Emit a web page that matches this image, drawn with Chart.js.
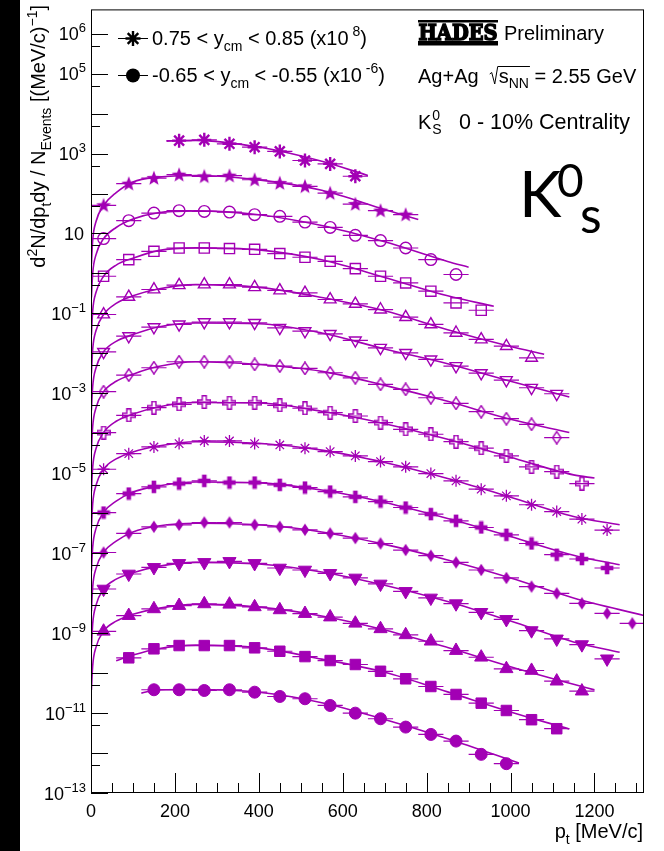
<!DOCTYPE html>
<html>
<head>
<meta charset="utf-8">
<script src="https://cdn.jsdelivr.net/npm/chart.js@4.4.1/dist/chart.umd.min.js"></script>
<style>
  html, body { margin: 0; padding: 0; background: #fff; }
  canvas { display: block; }
</style>
</head>
<body>
<canvas id="spectra" width="664" height="851"></canvas>
<script>
// pt bins [MeV/c], centres and half width of the horizontal error bars
const binCentres = [30, 90, 150, 210, 270, 330, 390, 450, 510, 570, 630, 690, 750, 810, 870, 930, 990, 1050, 1110, 1170, 1230, 1290];
const binHalfWidth = 30;

// rapidity bins, top to bottom, and the factor each spectrum is scaled by
const rapidityBins = ['0.75 < y_cm < 0.85', '0.65 < y_cm < 0.75', '0.55 < y_cm < 0.65', '0.45 < y_cm < 0.55', '0.35 < y_cm < 0.45',
  '0.25 < y_cm < 0.35', '0.15 < y_cm < 0.25', '0.05 < y_cm < 0.15', '-0.05 < y_cm < 0.05', '-0.15 < y_cm < -0.05',
  '-0.25 < y_cm < -0.15', '-0.35 < y_cm < -0.25', '-0.45 < y_cm < -0.35', '-0.55 < y_cm < -0.45', '-0.65 < y_cm < -0.55'];
const scaleExponents = [8, 7, 6, 5, 4, 3, 2, 1, 0, -1, -2, -3, -4, -5, -6];

// measured spectra (already scaled), one value per bin of binCentres
const ycm_p080 = [null, null, null, 2100, 2200, 1750, 1440, 1130, 670, 550, 270];
const ycm_p070 = [50.5, 176, 243, 295, 268, 279, 221, 182, 151, 102, 54.4, 37.2, 29.6];
const ycm_p060 = [7.43, 20.9, 32.4, 37.2, 35.7, 34.3, 29.6, 26.8, 19.3, 14.2, 9.0, 6.63, 4.33, 2.22, 0.94];
const ycm_p050 = [0.851, 2.22, 3.58, 4.33, 4.33, 4.19, 4.02, 3.14, 2.54, 2.01, 1.32, 0.851, 0.579, 0.359, 0.183, 0.120];
const ycm_p040 = [0.094, 0.259, 0.396, 0.507, 0.528, 0.528, 0.452, 0.374, 0.326, 0.223, 0.173, 0.125, 0.0805, 0.0530, 0.0327, 0.0223, 0.0152, 0.00774];
const ycm_p030 = [0.0109, 0.0270, 0.0453, 0.0530, 0.0604, 0.0604, 0.0581, 0.0436, 0.0360, 0.0308, 0.0211, 0.0138, 0.0103, 0.00706, 0.00481, 0.00321, 0.00215, 0.00138, 0.000977];
const ycm_p020 = [1.10e-3, 2.86e-3, 4.37e-3, 6.17e-3, 6.17e-3, 6.17e-3, 5.30e-3, 4.81e-3, 4.21e-3, 3.27e-3, 2.45e-3, 1.68e-3, 1.26e-3, 7.76e-4, 5.62e-4, 3.47e-4, 2.32e-4, 1.68e-4, 7.78e-5];
const ycm_p010 = [1.04e-4, 2.82e-4, 4.38e-4, 5.32e-4, 6.07e-4, 5.83e-4, 5.83e-4, 5.02e-4, 4.23e-4, 3.28e-4, 2.71e-4, 1.85e-4, 1.26e-4, 9.46e-5, 6.19e-5, 4.24e-5, 2.72e-5, 1.45e-5, 1.10e-5, 5.53e-6];
const ycm_p000 = [1.26e-5, 3.10e-5, 4.56e-5, 5.52e-5, 6.44e-5, 6.44e-5, 5.52e-5, 5.12e-5, 4.24e-5, 3.48e-5, 2.72e-5, 1.96e-5, 1.45e-5, 9.82e-6, 6.46e-6, 4.01e-6, 2.72e-6, 1.63e-6, 1.10e-6, 7.13e-7, 3.79e-7];
const ycm_m010 = [1.04e-6, 3.11e-6, 4.57e-6, 5.53e-6, 6.46e-6, 5.86e-6, 5.86e-6, 5.13e-6, 4.40e-6, 3.49e-6, 2.57e-6, 1.96e-6, 1.39e-6, 9.51e-7, 6.47e-7, 4.40e-7, 2.89e-7, 1.75e-7, 9.16e-8, 7.15e-8, 4.26e-8];
const ycm_m020 = [1.04e-7, 3.12e-7, 4.58e-7, 5.14e-7, 5.87e-7, 5.87e-7, 5.14e-7, 4.58e-7, 3.85e-7, 3.12e-7, 2.39e-7, 1.75e-7, 1.20e-7, 8.65e-8, 5.89e-8, 3.80e-8, 2.40e-8, 1.46e-8, 9.89e-9, 5.57e-9, 3.13e-9, 1.76e-9];
const ycm_m030 = [1.27e-8, 3.02e-8, 4.42e-8, 5.56e-8, 5.89e-8, 6.24e-8, 5.56e-8, 4.26e-8, 3.80e-8, 3.13e-8, 2.40e-8, 1.70e-8, 1.11e-8, 7.59e-9, 5.47e-9, 3.32e-9, 2.21e-9, 1.16e-9, 7.18e-10, 5.18e-10, 2.28e-10];
const ycm_m040 = [1.11e-9, 2.74e-9, 4.04e-9, 4.88e-9, 5.38e-9, 5.26e-9, 4.53e-9, 3.81e-9, 3.08e-9, 2.52e-9, 1.76e-9, 1.28e-9, 9.04e-10, 6.27e-10, 3.66e-10, 2.49e-10, 1.28e-10, 1.16e-10, 6.27e-11, 3.53e-11];
const ycm_m050 = [null, 2.41e-10, 4.05e-10, 4.89e-10, 4.89e-10, 4.89e-10, 4.29e-10, 3.52e-10, 2.59e-10, 2.06e-10, 1.64e-10, 1.11e-10, 7.20e-11, 4.62e-11, 2.92e-11, 1.77e-11, 1.16e-11, 6.82e-12, 4.06e-12];
const ycm_m060 = [null, null, 3.83e-11, 3.83e-11, 3.67e-11, 3.83e-11, 3.33e-11, 2.60e-11, 2.28e-11, 1.55e-11, 9.95e-12, 7.21e-12, 4.46e-12, 2.92e-12, 1.99e-12, 9.27e-13, 5.42e-13];

// fit curves, on a common pt grid, plus their start and end
const fitGrid = [4, 12, 30, 60, 100, 160, 250, 400, 550, 700, 850, 1000, 1150];
const fit_p080 = [null, null, null, null, null, null, 2140, 1450, 640];
const fit_p070 = [6.76, 20.0, 50.1, 105, 195, 257, 282, 219, 120, 39.8];
const fit_p060 = [1.0, 2.95, 7.41, 14.1, 22.9, 33.1, 36.7, 29.5, 15.8, 6.17, 2.0];
const fit_p050 = [0.115, 0.339, 0.851, 1.62, 2.40, 3.72, 4.37, 3.89, 2.19, 0.794, 0.275];
const fit_p040 = [0.0126, 0.0372, 0.0933, 0.178, 0.275, 0.407, 0.525, 0.447, 0.251, 0.117, 0.0389, 0.0148];
const fit_p030 = [1.48e-3, 4.37e-3, 1.10e-2, 2.00e-2, 2.95e-2, 4.57e-2, 5.75e-2, 5.50e-2, 3.24e-2, 1.29e-2, 5.50e-3, 2.00e-3];
const fit_p020 = [1.48e-4, 4.37e-4, 1.10e-3, 2.00e-3, 3.02e-3, 4.68e-3, 6.17e-3, 5.25e-3, 3.55e-3, 1.58e-3, 6.31e-4, 2.24e-4];
const fit_p010 = [1.41e-5, 4.17e-5, 1.05e-4, 2.00e-4, 3.02e-4, 4.57e-4, 5.89e-4, 5.75e-4, 3.55e-4, 1.74e-4, 7.08e-5, 2.51e-5, 9.12e-6];
const fit_p000 = [1.70e-6, 5.01e-6, 1.26e-5, 2.29e-5, 3.39e-5, 4.79e-5, 6.17e-5, 5.62e-5, 3.80e-5, 1.86e-5, 7.41e-6, 2.51e-6, 8.32e-7];
const fit_m010 = [1.41e-7, 4.17e-7, 1.05e-6, 2.00e-6, 3.39e-6, 4.79e-6, 6.03e-6, 5.75e-6, 3.80e-6, 1.86e-6, 7.41e-7, 2.63e-7, 8.91e-8];
const fit_m020 = [1.41e-8, 4.17e-8, 1.05e-7, 2.00e-7, 3.39e-7, 4.79e-7, 5.62e-7, 5.13e-7, 3.39e-7, 1.66e-7, 6.76e-8, 2.40e-8, 7.59e-9];
const fit_m030 = [1.70e-9, 5.01e-9, 1.26e-8, 2.24e-8, 3.24e-8, 4.68e-8, 5.89e-8, 5.37e-8, 3.39e-8, 1.58e-8, 6.17e-9, 2.00e-9, 6.03e-10];
const fit_m040 = [1.51e-10, 4.47e-10, 1.12e-9, 2.00e-9, 2.95e-9, 4.17e-9, 5.25e-9, 4.47e-9, 2.69e-9, 1.20e-9, 4.37e-10, 1.45e-10, 5.25e-11];
const fit_m050 = [null, null, null, null, 2.82e-10, 4.07e-10, 5.01e-10, 4.27e-10, 2.24e-10, 1.05e-10, 3.39e-11, 1.07e-11];
const fit_m060 = [null, null, null, null, null, 3.80e-11, 3.89e-11, 3.31e-11, 1.82e-11, 6.92e-12, 2.29e-12];
const fitFrom = [180, 1, 1, 1, 1, 1, 1, 1, 1, 1, 1, 1, 1, 60, 120];
const fitFromValue = [2040, 1.70, 0.251, 0.0288, 0.00316, 3.72e-4, 3.72e-5, 3.55e-6, 4.27e-7, 3.55e-8, 3.55e-9, 4.27e-10, 3.80e-11, 2.04e-10, 3.16e-11];
const fitTo = [660, 780, 900, 960, 1080, 1140, 1140, 1200, 1260, 1260, 1318, 1260, 1200, 1140, 1020];
const fitToValue = [282, 22.4, 1.43, 0.151, 0.00955, 8.13e-4, 1.05e-4, 7.59e-6, 5.13e-7, 5.13e-8, 2.75e-9, 3.31e-10, 3.80e-11, 3.98e-12, 5.62e-13];

// axis ticks
const xTickLabels = [0, 200, 400, 600, 800, 1000, 1200];
const yLabelExponents = [6, 5, 3, 1, -1, -3, -5, -7, -9, -11, -13];

const spectra = [ycm_p080, ycm_p070, ycm_p060, ycm_p050, ycm_p040, ycm_p030, ycm_p020, ycm_p010,
  ycm_p000, ycm_m010, ycm_m020, ycm_m030, ycm_m040, ycm_m050, ycm_m060];
const fits = [fit_p080, fit_p070, fit_p060, fit_p050, fit_p040, fit_p030, fit_p020, fit_p010,
  fit_p000, fit_m010, fit_m020, fit_m030, fit_m040, fit_m050, fit_m060];

const purple = '#a200b4';
const FONT = '"Liberation Sans", Arial, sans-serif';
const none = 'rgba(0,0,0,0)';

function makeMarker(w, h, draw) {
  const c = document.createElement('canvas');
  c.width = w;
  c.height = h;
  const g = c.getContext('2d');
  g.fillStyle = purple;
  g.strokeStyle = purple;
  g.lineWidth = 1.4;
  draw(g);
  return c;
}

const filledStar = makeMarker(16, 16, g => {
  g.beginPath();
  for (let k = 0; k < 10; k++) {
    const r = k % 2 ? 3.3 : 7.8;
    const a = -Math.PI / 2 + k * Math.PI / 5;
    g.lineTo(8 + r * Math.cos(a), 8.4 + r * Math.sin(a));
  }
  g.closePath();
  g.fill();
});
const diamondPath = g => {
  g.beginPath();
  g.moveTo(5, 0.8); g.lineTo(9.2, 7); g.lineTo(5, 13.2); g.lineTo(0.8, 7); g.closePath();
};
const openDiamond = makeMarker(10, 14, g => { diamondPath(g); g.stroke(); });
const filledDiamond = makeMarker(10, 14, g => { diamondPath(g); g.fill(); });
const crossPath = (g, a) => {
  const c = 7, o = 6.3;
  g.beginPath();
  g.moveTo(c - a, c - o); g.lineTo(c + a, c - o); g.lineTo(c + a, c - a); g.lineTo(c + o, c - a);
  g.lineTo(c + o, c + a); g.lineTo(c + a, c + a); g.lineTo(c + a, c + o); g.lineTo(c - a, c + o);
  g.lineTo(c - a, c + a); g.lineTo(c - o, c + a); g.lineTo(c - o, c - a); g.lineTo(c - a, c - a);
  g.closePath();
};
const openCross = makeMarker(14, 14, g => { crossPath(g, 2); g.stroke(); });
const filledCross = makeMarker(14, 14, g => { crossPath(g, 2.3); g.fill(); });

// one marker per rapidity bin, same order as spectra
const markers = [
  { style: 'star', r: 7, bw: 2.4, fill: false },
  { style: filledStar, r: 8 },
  { style: 'circle', r: 5.8, bw: 1.4, fill: false },
  { style: 'rect', r: 7.2, bw: 1.4, fill: false },
  { style: 'triangle', r: 6.8, bw: 1.4, fill: false },
  { style: 'triangle', r: 6.8, bw: 1.4, fill: false, rot: 180 },
  { style: openDiamond, r: 7 },
  { style: openCross, r: 7 },
  { style: 'star', r: 6, bw: 1.3, fill: false },
  { style: filledCross, r: 7 },
  { style: filledDiamond, r: 7 },
  { style: 'triangle', r: 7.6, bw: 1, fill: true, rot: 180 },
  { style: 'triangle', r: 7.6, bw: 1, fill: true },
  { style: 'rect', r: 7.4, bw: 1, fill: true },
  { style: 'circle', r: 6, bw: 1, fill: true }
];

function dataPoints(values) {
  const pts = [];
  values.forEach((v, j) => { if (v != null) pts.push({ x: binCentres[j], y: v }); });
  return pts;
}

function fitPoints(i) {
  const pts = [{ x: fitFrom[i], y: fitFromValue[i] }];
  fitGrid.forEach((p, j) => {
    const v = fits[i][j];
    if (v != null && p > fitFrom[i] && p < fitTo[i]) pts.push({ x: p, y: v });
  });
  pts.push({ x: fitTo[i], y: fitToValue[i] });
  return pts;
}

const datasets = [];
spectra.forEach((values, i) => {
  const m = markers[i];
  datasets.push({
    label: rapidityBins[i] + ' (x10^' + scaleExponents[i] + ')',
    data: dataPoints(values),
    showLine: false,
    pointStyle: m.style,
    pointRadius: m.r,
    pointBorderWidth: m.bw || 1,
    pointRotation: m.rot || 0,
    pointBorderColor: purple,
    pointBackgroundColor: m.fill === false ? none : purple
  });
  datasets.push({
    label: 'fit ' + rapidityBins[i],
    data: fitPoints(i),
    showLine: true,
    borderColor: purple,
    borderWidth: 1.6,
    pointRadius: 0,
    fill: false,
    cubicInterpolationMode: 'monotone'
  });
});

// text with sub/superscripts: parts = [text, size, dy]
function drawRich(ctx, x, y, parts, align) {
  let w = 0;
  parts.forEach(p => { ctx.font = p[1] + 'px ' + FONT; w += ctx.measureText(p[0]).width; });
  let cx = align === 'right' ? x - w : align === 'center' ? x - w / 2 : x;
  ctx.textAlign = 'left';
  parts.forEach(p => {
    ctx.font = p[1] + 'px ' + FONT;
    ctx.fillText(p[0], cx, y + (p[2] || 0));
    cx += ctx.measureText(p[0]).width;
  });
  return cx;
}

const decor = {
  id: 'decor',
  beforeDraw(chart) {
    const ctx = chart.ctx;
    ctx.save();
    ctx.fillStyle = '#fff';
    ctx.fillRect(0, 0, chart.width, chart.height);
    ctx.fillStyle = '#000';
    ctx.fillRect(0, 0, 20, chart.height);
    ctx.restore();
  },
  beforeDatasetsDraw(chart) {
    const ctx = chart.ctx, xs = chart.scales.x, ys = chart.scales.y, a = chart.chartArea;
    ctx.save();
    ctx.beginPath();
    ctx.rect(a.left, a.top, a.right - a.left, a.bottom - a.top);
    ctx.clip();
    ctx.strokeStyle = purple;
    ctx.lineWidth = 1.2;
    spectra.forEach(values => {
      values.forEach((v, j) => {
        if (v == null) return;
        const py = ys.getPixelForValue(v);
        ctx.beginPath();
        ctx.moveTo(xs.getPixelForValue(binCentres[j] - binHalfWidth), py);
        ctx.lineTo(xs.getPixelForValue(binCentres[j] + binHalfWidth), py);
        ctx.stroke();
      });
    });
    ctx.restore();
  },
  afterDraw(chart) {
    const ctx = chart.ctx, xs = chart.scales.x, ys = chart.scales.y, a = chart.chartArea;
    ctx.save();
    ctx.strokeStyle = '#000';
    ctx.fillStyle = '#000';
    ctx.lineWidth = 1;
    ctx.strokeRect(a.left + 0.5, a.top + 0.5, a.right - a.left - 1, a.bottom - a.top - 1);

    // x ticks
    ctx.beginPath();
    for (let v = 0; v <= 1300; v += 50) {
      const px = Math.round(xs.getPixelForValue(v)) + 0.5;
      const len = v % 200 === 0 ? 20 : 10;
      ctx.moveTo(px, a.bottom);
      ctx.lineTo(px, a.bottom - len);
    }
    // y ticks: decades and 5 x 10^k
    for (let e = -13; e <= 6; e++) {
      const py = Math.round(ys.getPixelForValue(Math.pow(10, e))) + 0.5;
      ctx.moveTo(a.left, py);
      ctx.lineTo(a.left + 17, py);
      const p5 = Math.round(ys.getPixelForValue(5 * Math.pow(10, e))) + 0.5;
      if (p5 > a.top) {
        ctx.moveTo(a.left, p5);
        ctx.lineTo(a.left + 9, p5);
      }
    }
    ctx.stroke();

    // tick labels
    ctx.font = '18px ' + FONT;
    ctx.textAlign = 'center';
    xTickLabels.forEach(v => ctx.fillText(String(v), xs.getPixelForValue(v), 817));
    yLabelExponents.forEach(e => {
      const py = ys.getPixelForValue(Math.pow(10, e));
      if (e === 1) {
        drawRich(ctx, 84, py + 6.5, [['10', 18, 0]], 'right');
      } else {
        const sup = e < 0 ? '\u2212' + (-e) : String(e);
        drawRich(ctx, 86, py + 6.5, [['10', 18, 0], [sup, 13, -8]], 'right');
      }
    });

    // axis titles
    drawRich(ctx, 643, 838, [['p', 20, 0], ['t', 14, 6], [' [MeV/c]', 20, 0]], 'right');
    ctx.save();
    ctx.translate(45, 5);
    ctx.rotate(-Math.PI / 2);
    drawRich(ctx, 0, 0, [['d', 20, 0], ['2', 14, -8], ['N/dp', 20, 0], ['t', 14, 6], ['dy / N', 20, 0],
      ['Events', 14, 6], [' [(MeV/c)', 20, 0], ['\u22121', 14, -8], [']', 20, 0]], 'right');
    ctx.restore();

    // legend (first and last rapidity bin)
    ctx.lineWidth = 1;
    ctx.beginPath();
    ctx.moveTo(118, 38.5); ctx.lineTo(148, 38.5);
    ctx.moveTo(118, 75.5); ctx.lineTo(148, 75.5);
    ctx.stroke();
    ctx.lineWidth = 2.4;
    ctx.beginPath();
    for (let k = 0; k < 4; k++) {
      const ang = k * Math.PI / 4;
      ctx.moveTo(133 - 7.5 * Math.cos(ang), 38.5 - 7.5 * Math.sin(ang));
      ctx.lineTo(133 + 7.5 * Math.cos(ang), 38.5 + 7.5 * Math.sin(ang));
    }
    ctx.stroke();
    ctx.beginPath();
    ctx.arc(133, 75.5, 7, 0, Math.PI * 2);
    ctx.fill();
    drawRich(ctx, 152, 45, [['0.75 < y', 20, 0], ['cm', 14, 6], [' < 0.85 (x10', 20, 0], [' 8', 14, -9], [')', 20, 0]], 'left');
    drawRich(ctx, 152, 82, [['-0.65 < y', 20, 0], ['cm', 14, 6], [' < -0.55 (x10', 20, 0], [' -6', 14, -9], [')', 20, 0]], 'left');

    // HADES logo and labels
    ctx.fillRect(418, 20, 80, 2.5);
    ctx.fillRect(418, 41, 80, 4.5);
    ctx.save();
    ctx.font = 'bold 23px "DejaVu Serif"';
    const hw = ctx.measureText('HADES').width;
    ctx.translate(418.5, 39.5);
    ctx.scale(79 / hw, 1);
    ctx.textAlign = 'left';
    ctx.lineWidth = 1.6;
    ctx.lineJoin = 'miter';
    ctx.fillText('HADES', 0, 0);
    ctx.strokeText('HADES', 0, 0);
    ctx.restore();
    drawRich(ctx, 504, 40, [['Preliminary', 20, 0]], 'left');

    let cx = drawRich(ctx, 418, 83, [['Ag+Ag  ', 20, 0]], 'left');
    ctx.font = '20px ' + FONT;
    const sW = ctx.measureText('s').width;
    ctx.font = '14px ' + FONT;
    const nnW = ctx.measureText('NN').width;
    ctx.lineWidth = 1;
    ctx.beginPath();
    ctx.moveTo(cx, 74); ctx.lineTo(cx + 2, 72.5); ctx.lineTo(cx + 5, 84); ctx.lineTo(cx + 8, 66.5);
    ctx.lineTo(cx + 9 + sW + nnW + 1, 66.5);
    ctx.stroke();
    drawRich(ctx, cx + 9, 83, [['s', 20, 0], ['NN', 14, 5], [' = 2.55 GeV', 20, 0]], 'left');

    cx = drawRich(ctx, 418, 129, [['K', 20, 0]], 'left');
    drawRich(ctx, cx + 1, 120, [['0', 14, 0]], 'left');
    drawRich(ctx, cx + 1, 134, [['S', 14, 0]], 'left');
    drawRich(ctx, 459, 129, [['0 - 10% Centrality', 21.5, 0]], 'left');

    // big K0s
    ctx.font = '64px Lato, "Open Sans", sans-serif';
    ctx.textAlign = 'left';
    ctx.fillText('K', 519, 217);
    ctx.font = '46px Lato, "Open Sans", sans-serif';
    ctx.fillText('0', 557, 197);
    ctx.font = '50px Lato, "Open Sans", sans-serif';
    ctx.fillText('s', 580, 233);
    ctx.restore();
  }
};

new Chart(document.getElementById('spectra'), {
  type: 'line',
  data: { datasets: datasets },
  options: {
    responsive: false,
    animation: false,
    devicePixelRatio: 1,
    layout: { padding: { left: 91, right: 20, top: 8, bottom: 58 } },
    scales: {
      x: { type: 'linear', min: 0, max: 1318, display: false },
      y: { type: 'logarithmic', min: 1e-13, max: 4.04e6, display: false }
    },
    plugins: { legend: { display: false }, tooltip: { enabled: false } }
  },
  plugins: [decor]
});
</script>
</body>
</html>
